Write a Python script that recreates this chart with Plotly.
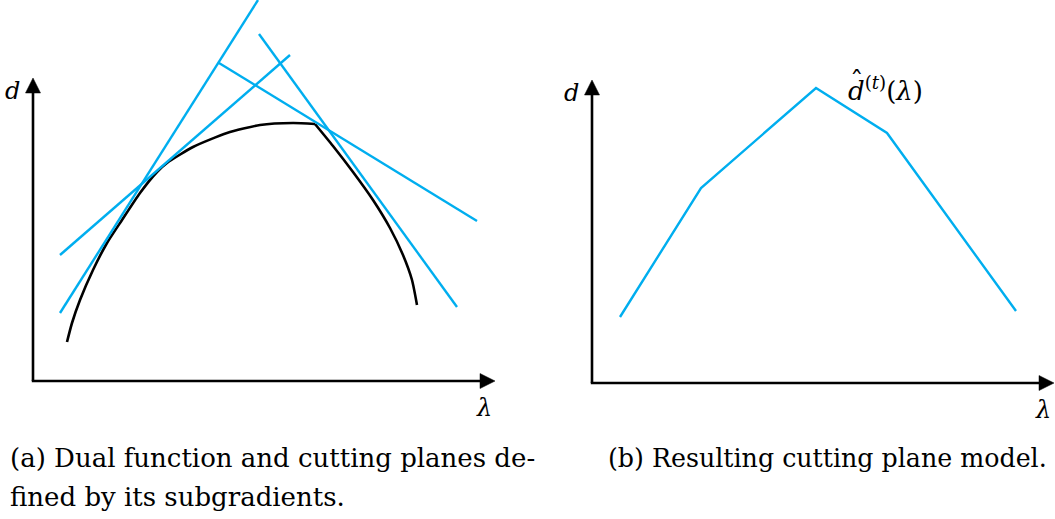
import plotly.graph_objects as go

# Panel (a): dual function d(lambda); left arc and right arc meet at a kink
dual_left_lam = [3.4, 3.9, 4.7, 6.0, 7.4, 8.9, 10.7, 12.4, 13.4, 16.0, 19.4,
                 22.7, 26.0, 28.2]
dual_left_d = [3.9, 5.8, 8.1, 11.1, 13.8, 16.1, 18.8, 20.9, 21.8, 23.4, 24.8,
               25.6, 25.8, 25.7]
dual_right_lam = [28.2, 30.0, 32.0, 34.0, 35.7, 37.0, 37.9, 38.4]
dual_right_d = [25.7, 23.5, 20.9, 18.1, 15.3, 12.6, 10.1, 7.6]

# Cutting planes (segment end points: lambda, d)
plane_lam = [[2.7, 22.5], [2.7, 25.7], [18.6, 44.4], [22.6, 42.4]]
plane_d = [[6.8, 38.1], [12.6, 32.6], [31.8, 16.0], [34.7, 7.4]]

# Panel (b): resulting piecewise-linear cutting plane model
model_lam = [2.8, 10.9, 22.4, 29.5, 42.4]
model_d = [6.6, 19.5, 29.5, 25.0, 7.2]

# Axis extents (both panels)
AX_LAM = 46.2
AX_D = 30.3

CYAN = "#00AEEF"
SERIF = "DejaVu Serif, serif"

fig = go.Figure()

for lx, ly in ((dual_left_lam, dual_left_d), (dual_right_lam, dual_right_d)):
    fig.add_trace(go.Scatter(x=lx, y=ly, mode="lines",
                             line=dict(color="black", width=2.6,
                                       shape="spline", smoothing=0.6),
                             xaxis="x", yaxis="y", showlegend=False,
                             hoverinfo="skip"))
for lx, ly in zip(plane_lam, plane_d):
    fig.add_trace(go.Scatter(x=lx, y=ly, mode="lines",
                             line=dict(color=CYAN, width=2.4),
                             xaxis="x", yaxis="y", showlegend=False,
                             hoverinfo="skip"))

fig.add_trace(go.Scatter(x=model_lam, y=model_d, mode="lines",
                         line=dict(color=CYAN, width=2.4),
                         xaxis="x2", yaxis="y2", showlegend=False,
                         hoverinfo="skip"))

shapes = []
for xr, yr in (("x", "y"), ("x2", "y2")):
    head = 1.5
    half = 0.75
    shapes.append(dict(type="line", xref=xr, yref=yr, x0=0, y0=0,
                       x1=0, y1=AX_D - head + 0.2,
                       line=dict(color="black", width=2.6)))
    shapes.append(dict(type="line", xref=xr, yref=yr, x0=-0.12, y0=0,
                       x1=AX_LAM - head + 0.2, y1=0,
                       line=dict(color="black", width=2.6)))
    shapes.append(dict(type="path", xref=xr, yref=yr,
                       path=f"M {-half},{AX_D - head} L {half},{AX_D - head} "
                            f"L 0,{AX_D} Z",
                       fillcolor="black", line=dict(color="black", width=0.5)))
    shapes.append(dict(type="path", xref=xr, yref=yr,
                       path=f"M {AX_LAM - head},{-half} L {AX_LAM - head},{half} "
                            f"L {AX_LAM},0 Z",
                       fillcolor="black", line=dict(color="black", width=0.5)))

annotations = []
for xr, yr in (("x", "y"), ("x2", "y2")):
    annotations.append(dict(text="<i>d</i>", xref=xr, yref=yr, x=-2.1, y=29.0,
                            showarrow=False, xanchor="center", yanchor="middle",
                            font=dict(family=SERIF, size=24, color="black")))
    annotations.append(dict(text="<i>λ</i>", xref=xr, yref=yr, x=45.1, y=-2.7,
                            showarrow=False, xanchor="center", yanchor="middle",
                            font=dict(family=SERIF, size=24, color="black")))

# Model label d-hat^(t)(lambda); the hat is set as its own glyph over the d
annotations.append(dict(text="<i>d</i><sup>(<i>t</i>)</sup>(<i>λ</i>)",
                        xref="x2", yref="y2", x=25.4, y=29.4, showarrow=False,
                        xanchor="left", yanchor="middle",
                        font=dict(family=SERIF, size=26, color="black")))
annotations.append(dict(text="ˆ",
                        xref="x2", yref="y2", x=26.5, y=30.2, showarrow=False,
                        xanchor="center", yanchor="middle",
                        font=dict(family=SERIF, size=27, color="black")))

cap_font = dict(family=SERIF, size=26, color="black")
annotations.append(dict(text="(a) Dual function and cutting planes de-",
                        xref="paper", yref="paper", x=8 / 1055, y=1 - 458 / 519,
                        showarrow=False, xanchor="left", yanchor="middle",
                        font=cap_font))
annotations.append(dict(text="fined by its subgradients.",
                        xref="paper", yref="paper", x=8 / 1055, y=1 - 497 / 519,
                        showarrow=False, xanchor="left", yanchor="middle",
                        font=cap_font))
annotations.append(dict(text="(b) Resulting cutting plane model.",
                        xref="paper", yref="paper", x=606 / 1055, y=1 - 458 / 519,
                        showarrow=False, xanchor="left", yanchor="middle",
                        font=dict(family=SERIF, size=25.3, color="black")))

hidden = dict(visible=False, showgrid=False, zeroline=False, fixedrange=True)
fig.update_layout(
    width=1055, height=519,
    margin=dict(l=0, r=0, t=0, b=0),
    paper_bgcolor="white", plot_bgcolor="white",
    xaxis=dict(domain=[0, 0.5], range=[-3.3, 49.45], **hidden),
    yaxis=dict(domain=[0, 1], range=[-13.8, 38.1], **hidden),
    xaxis2=dict(domain=[0.5, 1], range=[-6.45, 46.3], anchor="y2", **hidden),
    yaxis2=dict(domain=[0, 1], range=[-13.6, 38.3], anchor="x2", **hidden),
    shapes=shapes,
    annotations=annotations,
)

fig.write_html("out.html")
